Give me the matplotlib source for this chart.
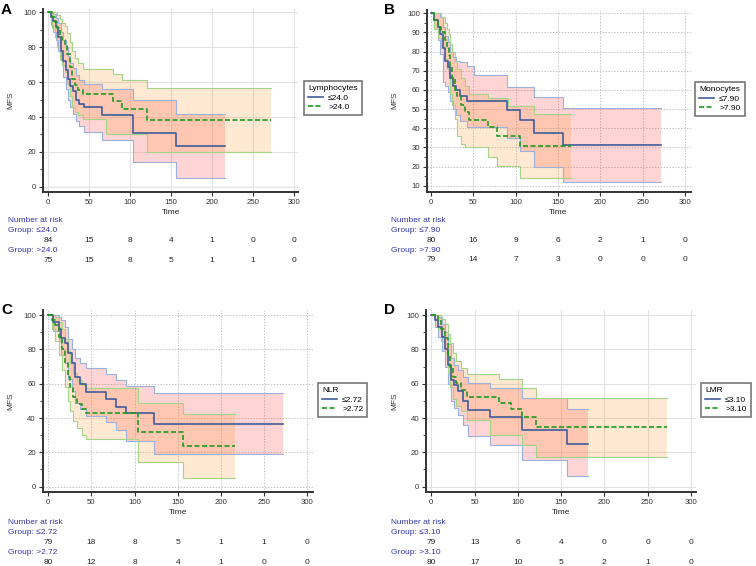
import matplotlib
matplotlib.use('Agg')
import matplotlib.pyplot as plt
from matplotlib.lines import Line2D
from matplotlib import transforms

plt.rcParams['font.family'] = ['Liberation Sans', 'DejaVu Sans']

W, H = 756, 566

# ---- data ----
xticks = [0, 50, 100, 150, 200, 250, 300]

# A: Lymphocytes
a_g1_t = [0, 3, 6, 9, 12, 15, 18, 21, 24, 27, 30, 34, 38, 43, 66, 104, 156, 216]
a_g1_s = [100, 97.6, 95, 91.5, 86, 78, 72, 67, 62, 58, 55, 50, 47.5, 45.6, 41.4, 31, 23.4, 23.4]
a_g1_hi = [100, 100, 99, 97, 94, 89, 84, 80, 75, 71, 68, 64, 61, 59, 56, 50, 41.6, 41.6]
a_g1_lo = [100, 93, 89, 84, 78, 73, 63, 56, 50, 46, 42, 38, 35, 31.6, 26.8, 14.4, 5.2, 5.2]
a_g2_t = [0, 4, 8, 11, 14, 17, 20, 23, 26, 29, 32, 36, 42, 71, 78.5, 89.5, 120, 272.6]
a_g2_s = [100, 97.3, 94.7, 91, 86, 84, 82, 76, 69, 62, 58.4, 55.5, 53, 53, 49, 44.6, 38.3, 38.3]
a_g2_hi = [100, 100, 100, 98.6, 96, 94, 92, 88, 83, 78, 74, 71, 67.6, 67.6, 64.8, 61, 56.5, 56.5]
a_g2_lo = [100, 91, 86, 80, 73, 70, 66, 59, 52, 46, 43, 41, 38.7, 30, 30, 30, 20, 20]
a_risk1 = [84, 15, 8, 4, 1, 0, 0]
a_risk2 = [75, 15, 8, 5, 1, 1, 0]

# B: Monocytes
b_g1_t = [0, 4, 8, 11, 14, 17, 20, 23, 26, 30, 34, 43, 51, 90, 105, 122, 156, 272]
b_g1_s = [100, 96.6, 93, 89, 82, 75, 72, 66, 62, 60, 57, 54, 54, 49.5, 44.3, 37.7, 31.2, 31.2]
b_g1_hi = [100, 100, 100, 98, 93, 88, 85, 80, 77, 75, 74.5, 72.5, 67.8, 61.3, 61.3, 56.5, 50.4, 50.4]
b_g1_lo = [100, 92, 86, 79, 64, 62, 59, 54, 50, 47, 44, 40.8, 40.8, 35, 28, 19.7, 12.1, 12.1]
b_g2_t = [0, 4, 8, 12, 16, 19, 21, 23, 25, 28, 31, 35, 40, 45, 67, 78, 91, 105, 122, 165.7]
b_g2_s = [100, 96.6, 93, 90, 86, 82, 78, 72, 66, 60, 57, 52, 48.5, 44.3, 40.8, 35.9, 35.9, 30.9, 30.9, 30.9]
b_g2_hi = [100, 100, 100, 98, 95, 92, 89, 84, 80, 75, 71, 66, 62, 58, 55.6, 55.6, 51.6, 51.6, 47.3, 47.3]
b_g2_lo = [100, 92, 87, 82, 76, 71, 66, 58, 52, 45, 36, 32, 30.4, 30.4, 25.1, 20.4, 20.4, 14.3, 14.3, 14.3]
b_risk1 = [80, 16, 9, 6, 2, 1, 0]
b_risk2 = [79, 14, 7, 3, 0, 0, 0]

# C: NLR
c_g1_t = [0, 6, 12, 15, 19, 23, 27, 31, 37, 43.6, 66.8, 79, 90, 122, 272]
c_g1_s = [100, 96, 92, 86.4, 83.5, 78, 72, 64, 60, 55, 51, 46.6, 42.7, 36.5, 36.5]
c_g1_hi = [100, 100, 99, 97, 93, 86, 80, 75, 72, 69, 65.6, 62, 58.6, 54.4, 54.4]
c_g1_lo = [100, 91, 85, 77, 72, 63, 56, 49, 45, 41, 37.5, 33, 26.6, 19, 19]
c_g2_t = [0, 4, 8, 12, 15.5, 19.3, 23, 25, 29, 33, 38.6, 43.6, 104, 156.4, 216]
c_g2_s = [100, 97, 94, 87, 80, 72, 64, 58, 52, 48, 45, 42.7, 32, 23.9, 23.9]
c_g2_hi = [100, 100, 99, 96, 92, 86, 79, 72, 66, 62, 59, 57.3, 48.5, 42.3, 42.3]
c_g2_lo = [100, 92, 85, 77, 68, 58, 50, 44, 38, 34, 30, 27.8, 14.6, 5.2, 5.2]
c_risk1 = [79, 18, 8, 5, 1, 1, 0]
c_risk2 = [80, 12, 8, 4, 1, 0, 0]

# D: LMR
d_g1_t = [0, 4, 8, 12, 15.4, 19.3, 23, 26, 31, 36.6, 42.4, 67.5, 105, 157, 181]
d_g1_s = [100, 97, 93, 87, 80, 71, 62, 59, 56, 50, 44.8, 40.5, 33.2, 25, 25]
d_g1_hi = [100, 100, 99, 95, 90, 83, 75, 71, 68, 64, 60.5, 57.4, 51.6, 45.2, 45.2]
d_g1_lo = [100, 93, 87, 79, 70, 60, 50, 46, 42, 36, 29.7, 24.5, 15.7, 6, 6]
d_g2_t = [0, 4, 8, 11.6, 15.4, 19.3, 22, 25, 29, 34.7, 41.6, 67.5, 78, 91.8, 105, 121.5, 272]
d_g2_s = [100, 100, 97, 92, 86.4, 76, 70, 64, 60.3, 56.4, 52.5, 52.5, 48.7, 45.2, 40.5, 34.7, 34.7]
d_g2_hi = [100, 100, 100, 98, 95, 89, 84, 78, 73, 69, 65.5, 65.5, 62.6, 62.6, 57.4, 51.6, 51.6]
d_g2_lo = [100, 100, 92, 85, 78, 66, 58, 51, 47, 44, 39, 30.3, 30.3, 30.3, 24.3, 17.5, 17.5]
d_risk1 = [79, 13, 6, 4, 0, 0, 0]
d_risk2 = [80, 17, 10, 5, 2, 1, 0]

# ---- styling ----
BLUE = '#3f5c9c'
GREEN = '#1e9a1e'
BLUE_EDGE = '#9cb0dc'
GREEN_EDGE = '#a3d487'
TXT_BLUE = '#3535b0'

fig = plt.figure(figsize=(W / 100, H / 100), dpi=100)


def fr(x, y):
    return x / W, 1 - y / H


def panel(rect, xlim, ylim, yticks, yminor, letter, letter_xy, grid_ls,
          g1, g2, title, lab1, lab2, risk1, risk2, leg_xy, time_y, risk_x, risk_y):
    l, t, r, b = rect
    ax = fig.add_axes([l / W, 1 - b / H, (r - l) / W, (b - t) / H])
    t1, s1, hi1, lo1 = g1
    t2, s2, hi2, lo2 = g2

    # pink band first, orange on top -> salmon where they overlap
    ax.fill_between(t1, lo1, hi1, step='post', color='#ff3838', alpha=0.21, lw=0)
    ax.fill_between(t2, lo2, hi2, step='post', color='#ffa040', alpha=0.23, lw=0)
    ax.step(t1, hi1, where='post', color=BLUE_EDGE, lw=0.8)
    ax.step(t1, lo1, where='post', color=BLUE_EDGE, lw=0.8)
    ax.step(t2, hi2, where='post', color=GREEN_EDGE, lw=0.8)
    ax.step(t2, lo2, where='post', color=GREEN_EDGE, lw=0.8)
    ax.step(t1, s1, where='post', color=BLUE, lw=1.2)
    ax.step(t2, s2, where='post', color=GREEN, lw=1.2, dashes=(3, 1.5))

    ax.set_xlim(*xlim)
    ax.set_ylim(*ylim)
    ax.set_xticks(xticks)
    ax.set_yticks(yticks)
    ax.set_yticks(yminor, minor=True)
    if grid_ls == 'solid':
        ax.grid(True, color='#e2e2e2', lw=0.8, ls='-')
    else:
        ax.grid(True, color='#c4c4c4', lw=0.7, ls=(0, (1.5, 1.5)))
    ax.set_axisbelow(True)
    for sp in ['top', 'right']:
        ax.spines[sp].set_visible(False)
    for sp in ['left', 'bottom']:
        ax.spines[sp].set_linewidth(1.4)
        ax.spines[sp].set_color('#333333')
    ax.tick_params(axis='both', which='major', labelsize=5.6, length=3,
                   width=0.8, color='#333333', labelcolor='#333333', pad=2)
    ax.tick_params(axis='y', which='minor', length=2, width=0.6, color='#333333')
    ax.set_ylabel('MFS', fontsize=6, color='#333333', labelpad=6)

    fig.text(*fr(letter_xy[0], letter_xy[1]), letter, fontsize=11,
             weight='bold', va='top', ha='left')

    # Time label
    trans = transforms.blended_transform_factory(ax.transData, fig.transFigure)
    ax.text(150, fr(0, time_y)[1], 'Time', transform=trans, fontsize=6,
            ha='center', va='center', color='#222222')

    # number at risk
    fig.text(*fr(risk_x, risk_y), 'Number at risk', fontsize=6,
             color=TXT_BLUE, va='center')
    fig.text(*fr(risk_x, risk_y + 10), 'Group: ' + lab1, fontsize=6,
             color=TXT_BLUE, va='center')
    fig.text(*fr(risk_x, risk_y + 30), 'Group: ' + lab2, fontsize=6,
             color=TXT_BLUE, va='center')
    for xv, n1, n2 in zip(xticks, risk1, risk2):
        ax.text(xv, fr(0, risk_y + 20)[1], str(n1), transform=trans,
                fontsize=6, ha='center', va='center', color='#222222')
        ax.text(xv, fr(0, risk_y + 40)[1], str(n2), transform=trans,
                fontsize=6, ha='center', va='center', color='#222222')

    handles = [Line2D([], [], color=BLUE, lw=1.2),
               Line2D([], [], color=GREEN, lw=1.2, dashes=(3, 1.5))]
    leg = fig.legend(handles, [lab1, lab2], title=title, loc='upper left',
                     bbox_to_anchor=fr(*leg_xy), borderaxespad=0,
                     fontsize=6, title_fontsize=6, frameon=True, fancybox=False,
                     handlelength=1.8, handletextpad=0.6, borderpad=0.5,
                     labelspacing=0.2, alignment='left')
    leg.get_frame().set_edgecolor('#555555')
    leg.get_frame().set_linewidth(1.2)
    return ax


panel((43, 9, 298, 192), (-6.5, 305), (-3, 102), [0, 20, 40, 60, 80, 100],
      [10, 30, 50, 70, 90], 'A', (1, 3), 'solid',
      (a_g1_t, a_g1_s, a_g1_hi, a_g1_lo), (a_g2_t, a_g2_s, a_g2_hi, a_g2_lo),
      'Lymphocytes', '≤24.0', '>24.0', a_risk1, a_risk2,
      (304, 81), 212, 8, 221)

panel((427, 9.5, 691, 191.7), (-4.7, 307), (6.9, 102),
      [10, 20, 30, 40, 50, 60, 70, 80, 90, 100],
      [15, 25, 35, 45, 55, 65, 75, 85, 95], 'B', (384, 3), 'dotted',
      (b_g1_t, b_g1_s, b_g1_hi, b_g1_lo), (b_g2_t, b_g2_s, b_g2_hi, b_g2_lo),
      'Monocytes', '≤7.90', '>7.90', b_risk1, b_risk2,
      (695, 82), 212, 391, 220)

panel((42.7, 310, 313, 492.3), (-6.5, 306.7), (-3.3, 103), [0, 20, 40, 60, 80, 100],
      [10, 30, 50, 70, 90], 'C', (1, 303), 'dotted',
      (c_g1_t, c_g1_s, c_g1_hi, c_g1_lo), (c_g2_t, c_g2_s, c_g2_hi, c_g2_lo),
      'NLR', '≤2.72', '>2.72', c_risk1, c_risk2,
      (318, 383), 513, 8, 522)

panel((426.3, 310, 696, 492.3), (-5.8, 306), (-3.3, 103), [0, 20, 40, 60, 80, 100],
      [10, 30, 50, 70, 90], 'D', (384, 303), 'solid',
      (d_g1_t, d_g1_s, d_g1_hi, d_g1_lo), (d_g2_t, d_g2_s, d_g2_hi, d_g2_lo),
      'LMR', '≤3.10', '>3.10', d_risk1, d_risk2,
      (701, 383), 513, 391, 522)

fig.savefig('out.png', dpi=100)
